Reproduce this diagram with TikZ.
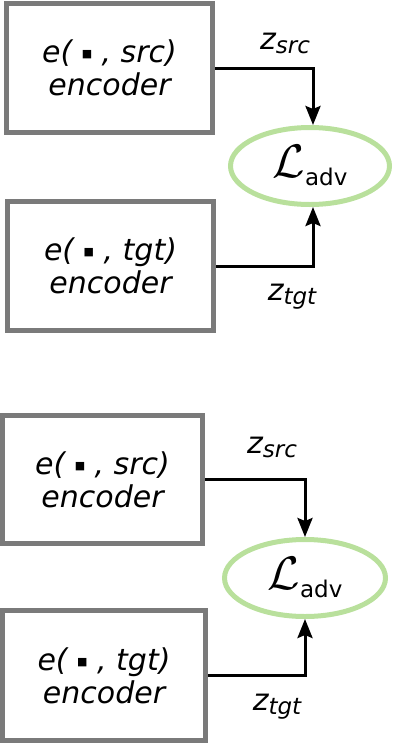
\documentclass[tikz,border=0pt]{standalone}
\usepackage{graphicx}
\usepackage{fontspec}
\setmainfont{DejaVu Sans}
\usetikzlibrary{shapes.geometric,arrows.meta}
\definecolor{boxgray}{HTML}{7A7A7A}
\definecolor{lossgreen}{HTML}{B9E09C}
\tikzset{
  encbox/.style={draw=boxgray, line width=5.5pt, rectangle, inner sep=0pt, align=center,
    font=\fontsize{30}{33}\selectfont\itshape},
  lossell/.style={draw=lossgreen, line width=5pt, ellipse, inner sep=0pt,
    minimum width=159pt, minimum height=77pt},
  conn/.style={line width=3pt, -{Stealth[length=19pt,width=15pt,inset=3pt]}},
  zlab/.style={inner sep=0pt, font=\fontsize{30}{30}\selectfont\itshape}
}
\newcommand{\losstext}{\scalebox{4.7}{$\mathcal{L}$}\raisebox{-8pt}{\fontsize{23}{23}\selectfont adv}}
\newcommand{\dotsq}{\raisebox{5pt}{\fontsize{11}{11}\selectfont\upshape ■}}
\newcommand{\zsub}[1]{z\raisebox{-4pt}{\fontsize{23}{23}\selectfont #1}}
\begin{document}
\begin{tikzpicture}[x=1pt,y=-1pt]
\useasboundingbox (0,0) rectangle (403,745);
% top group
\node[encbox, minimum width=206pt, minimum height=129pt] (b1) at (109.5,68) {e( \dotsq\ , src)\\encoder};
\node[encbox, minimum width=206pt, minimum height=129pt] (b2) at (110.5,266) {e( \dotsq\ , tgt)\\encoder};
\node[lossell] (l1) at (310,166) {\losstext};
\draw[conn] (b1.east) -| ([xshift=3pt]l1.north);
\draw[conn] (b2.east) -| ([xshift=3pt]l1.south);
\node[zlab] (z1) at (285,43) {\zsub{src}};
\node[zlab] (z2) at (292,297) {\zsub{tgt}};
% bottom group
\node[encbox, minimum width=200pt, minimum height=128pt] (b3) at (102.5,479.5) {e( \dotsq\ , src)\\encoder};
\node[encbox, minimum width=203pt, minimum height=130pt] (b4) at (104,675.5) {e( \dotsq\ , tgt)\\encoder};
\node[lossell, minimum width=161pt] (l2) at (305,578) {\losstext};
\draw[conn] (b3.east) -| (l2.north);
\draw[conn] (b4.east) -| (l2.south);
\node[zlab] (z3) at (272,447) {\zsub{src}};
\node[zlab] (z4) at (277,707) {\zsub{tgt}};
\end{tikzpicture}
\end{document}
